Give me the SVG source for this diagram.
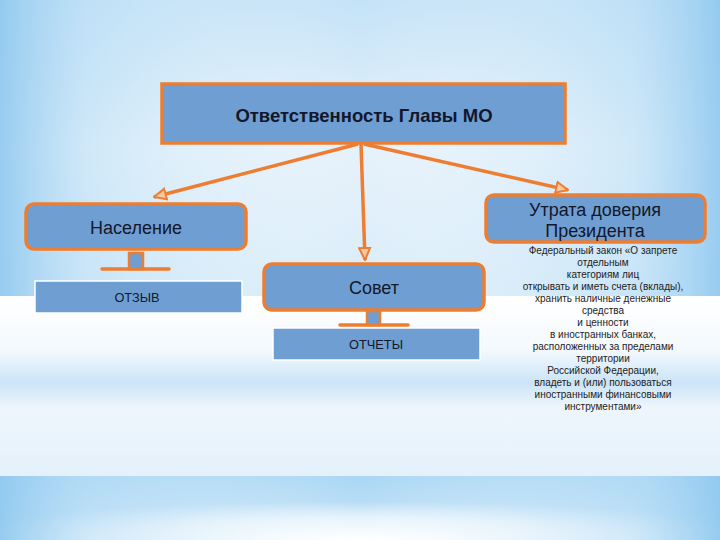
<svg xmlns="http://www.w3.org/2000/svg" width="720" height="540" viewBox="0 0 720 540">
<defs>
<linearGradient id="sky" x1="0" y1="0" x2="0" y2="1">
<stop offset="0" stop-color="#c4e2f7"/>
<stop offset="0.5" stop-color="#e6f2fb"/>
<stop offset="1" stop-color="#d9ecf9"/>
</linearGradient>
<linearGradient id="side" x1="0" y1="0" x2="1" y2="0">
<stop offset="0" stop-color="#8fc8ef" stop-opacity="0.9"/>
<stop offset="0.12" stop-color="#b9def6" stop-opacity="0.5"/>
<stop offset="0.5" stop-color="#ffffff" stop-opacity="0"/>
<stop offset="0.88" stop-color="#b9def6" stop-opacity="0.5"/>
<stop offset="1" stop-color="#8fc8ef" stop-opacity="0.9"/>
</linearGradient>
<linearGradient id="mid" x1="0" y1="0" x2="0" y2="1">
<stop offset="0" stop-color="#ffffff"/>
<stop offset="0.3" stop-color="#f4f9fd"/>
<stop offset="0.48" stop-color="#cbe4f7"/>
<stop offset="0.62" stop-color="#eef6fc"/>
<stop offset="1" stop-color="#e4f1fb"/>
</linearGradient>
<linearGradient id="bot" x1="0" y1="0" x2="0" y2="1">
<stop offset="0" stop-color="#a9d6f4"/>
<stop offset="1" stop-color="#cbe6f8"/>
</linearGradient>
<radialGradient id="glow" cx="0.5" cy="1" r="0.6">
<stop offset="0" stop-color="#ffffff"/>
<stop offset="0.6" stop-color="#ffffff" stop-opacity="0.6"/>
<stop offset="1" stop-color="#ffffff" stop-opacity="0"/>
</radialGradient>
<marker id="arr" viewBox="0 0 14 14" refX="13" refY="7" markerWidth="14" markerHeight="14" markerUnits="userSpaceOnUse" orient="auto">
<path d="M1,1.5 L13,7 L1,12.5 Z" fill="#f6c7a0" stroke="#ed7d31" stroke-width="2" stroke-linejoin="miter"/>
</marker>
<style>
.box{fill:#6f9fd2;stroke:#ed7d31;stroke-width:3.5}
.sub{fill:#6f9fd2;stroke:#ffffff;stroke-width:1.5}
.stem{fill:#6f9fd2;stroke:#ed7d31;stroke-width:2.5}
.bar{stroke:#ed7d31;stroke-width:3.5;stroke-linecap:round}
.con{stroke:#ed7d31;stroke-width:3.5;fill:none}
.t{font-family:"Liberation Sans",Arial,sans-serif;fill:#13172a;text-anchor:middle}
.s{font-family:"Liberation Sans",Arial,sans-serif;fill:#1c1c24;text-anchor:middle;font-size:10px}
</style>
</defs>
<rect x="0" y="0" width="720" height="296" fill="url(#sky)"/>
<rect x="0" y="0" width="720" height="296" fill="url(#side)"/>
<rect x="0" y="296" width="720" height="180" fill="url(#mid)"/>
<rect x="0" y="476" width="720" height="64" fill="url(#bot)"/>
<rect x="0" y="476" width="720" height="64" fill="url(#glow)"/>
<rect x="0" y="476" width="720" height="64" fill="url(#side)"/>

<g id="connectors">
<line class="con" x1="358" y1="144" x2="154" y2="197" marker-end="url(#arr)"/>
<line class="con" x1="361" y1="144" x2="365" y2="260" marker-end="url(#arr)"/>
<line class="con" x1="364" y1="144" x2="568" y2="190" marker-end="url(#arr)"/>
</g>

<g id="main">
<rect class="box" x="162" y="84" width="403" height="59"/>
<text class="t" x="364" y="122" font-size="18.5" font-weight="bold">Ответственность Главы МО</text>
</g>

<g id="naselenie">
<rect class="box" x="26" y="204" width="220" height="45" rx="8"/>
<text class="t" x="136" y="234" font-size="18">Население</text>
</g>
<g id="otzyv">
<rect class="stem" x="129" y="253" width="14" height="16"/>
<line class="bar" x1="102" y1="269" x2="169" y2="269"/>
<rect class="sub" x="35" y="281" width="207" height="32"/>
<text class="t" x="137" y="302" font-size="12.8">ОТЗЫВ</text>
</g>

<g id="sovet">
<rect class="box" x="264" y="264" width="220" height="46" rx="8"/>
<text class="t" x="374" y="294" font-size="18">Совет</text>
</g>
<g id="otchety">
<rect class="stem" x="367" y="311" width="13" height="14"/>
<line class="bar" x1="340" y1="325" x2="408" y2="325"/>
<rect class="sub" x="273" y="328" width="207" height="32"/>
<text class="t" x="376" y="349" font-size="12.8">ОТЧЕТЫ</text>
</g>

<g id="utrata">
<rect class="box" x="486" y="195" width="219" height="47" rx="8"/>
<text class="t" x="595" y="216" font-size="18">Утрата доверия</text>
<text class="t" x="595" y="237" font-size="18">Президента</text>
</g>

<g id="law">
<text class="s" x="603" y="254">Федеральный закон «О запрете</text>
<text class="s" x="603" y="266">отдельным</text>
<text class="s" x="603" y="278">категориям лиц</text>
<text class="s" x="603" y="290">открывать и иметь счета (вклады),</text>
<text class="s" x="603" y="302">хранить наличные денежные</text>
<text class="s" x="603" y="314">средства</text>
<text class="s" x="603" y="326">и ценности</text>
<text class="s" x="603" y="338">в иностранных банках,</text>
<text class="s" x="603" y="350">расположенных за пределами</text>
<text class="s" x="603" y="362">территории</text>
<text class="s" x="603" y="374">Российской Федерации,</text>
<text class="s" x="603" y="386">владеть и (или) пользоваться</text>
<text class="s" x="603" y="398">иностранными финансовыми</text>
<text class="s" x="603" y="410">инструментами»</text>
</g>
</svg>
